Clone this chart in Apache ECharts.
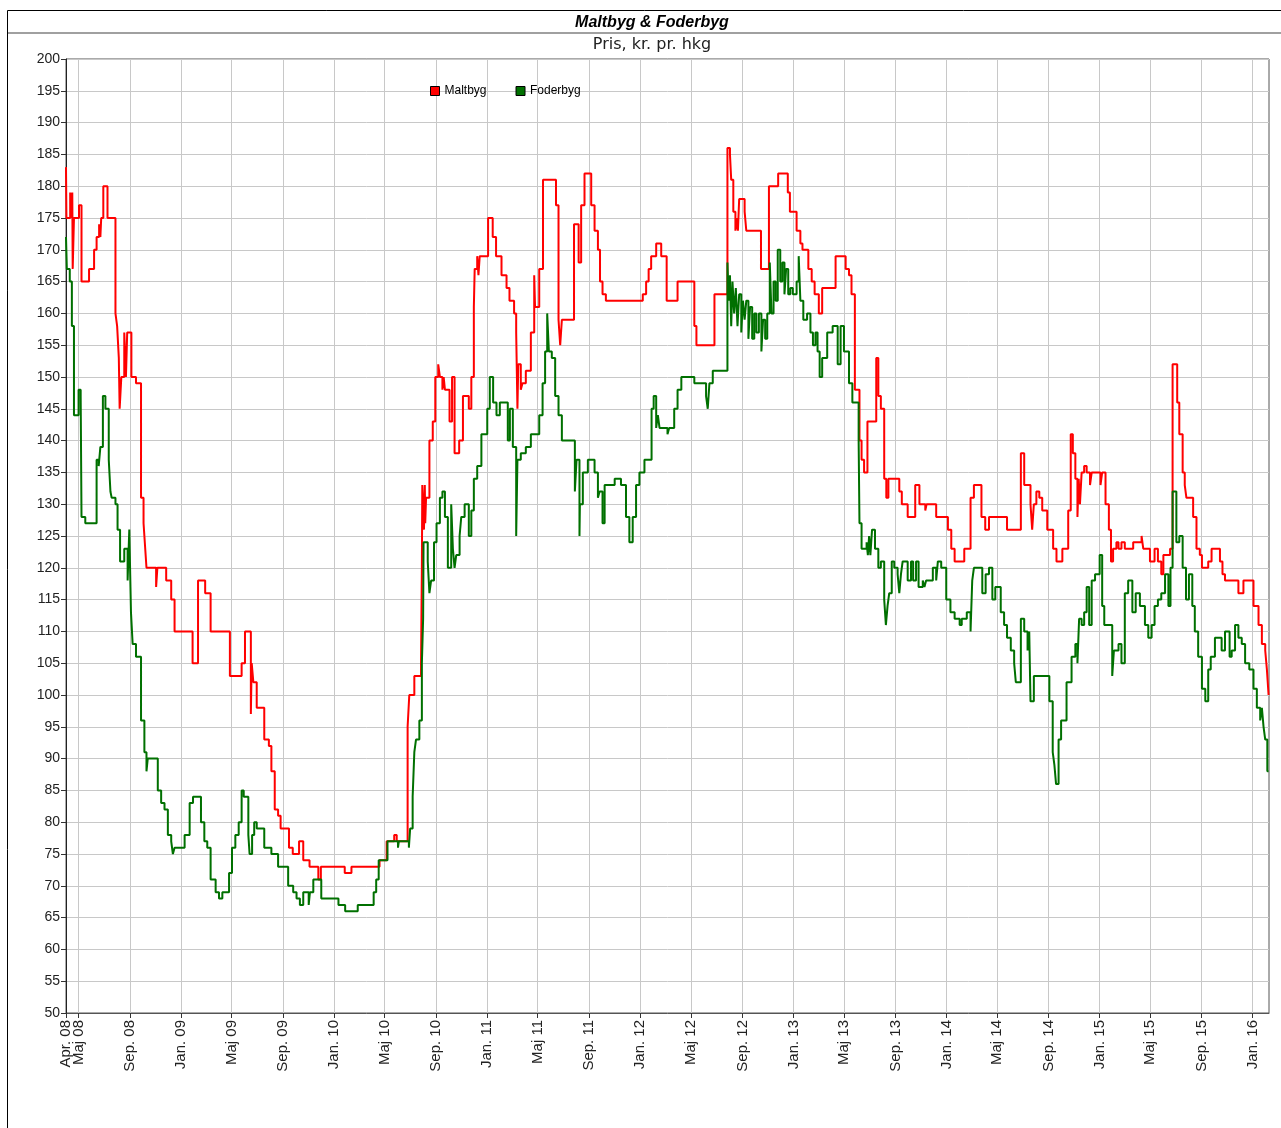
<!DOCTYPE html>
<html>
<head>
<meta charset="utf-8">
<title>Maltbyg & Foderbyg</title>
<script src="https://cdn.jsdelivr.net/npm/echarts@6/dist/echarts.min.js"></script>
<style>
    html, body { margin: 0; padding: 0; background: #fff; }
    #priceChart { width: 1281px; height: 1128px; }
</style>
</head>
<body>
<div id="priceChart"></div>
<script>
// x-akse: datoer for streger og tekster
var tickDates = ['2008-04-01','2008-05-01','2008-09-01','2009-01-01','2009-05-01','2009-09-01','2010-01-01','2010-05-01',
    '2010-09-01','2011-01-01','2011-05-01','2011-09-01','2012-01-01','2012-05-01','2012-09-01','2013-01-01','2013-05-01',
    '2013-09-01','2014-01-01','2014-05-01','2014-09-01','2015-01-01','2015-05-01','2015-09-01','2016-01-01'];
var tickLabels = ['Apr. 08','Maj 08','Sep. 08','Jan. 09','Maj 09','Sep. 09','Jan. 10','Maj 10',
    'Sep. 10','Jan. 11','Maj 11','Sep. 11','Jan. 12','Maj 12','Sep. 12','Jan. 13','Maj 13',
    'Sep. 13','Jan. 14','Maj 14','Sep. 14','Jan. 15','Maj 15','Sep. 15','Jan. 16'];
var startDate = '2008-04-01';
var endDate = '2016-02-09';

// Maltbyg - dato for prisskift og ny pris
var maltDates = ['2008-04-01','2008-04-02','2008-04-11','2008-04-14','2008-04-16','2008-04-17','2008-04-20','2008-05-02',
    '2008-05-08','2008-05-26','2008-06-07','2008-06-13','2008-06-19','2008-06-22','2008-06-24','2008-06-29','2008-07-09',
    '2008-07-28','2008-08-01','2008-08-05','2008-08-07','2008-08-11','2008-08-18','2008-08-22','2008-08-25','2008-09-04',
    '2008-09-15','2008-09-27','2008-10-03','2008-10-07','2008-10-10','2008-11-02','2008-11-05','2008-11-26','2008-12-08',
    '2008-12-16','2009-01-28','2009-02-10','2009-02-27','2009-03-12','2009-04-27','2009-05-25','2009-06-02','2009-06-16',
    '2009-06-18','2009-06-22','2009-06-30','2009-07-18','2009-07-29','2009-08-04','2009-08-12','2009-08-20','2009-08-26',
    '2009-09-15','2009-09-24','2009-10-09','2009-10-19','2009-11-03','2009-11-24','2009-11-30','2010-01-26','2010-02-11',
    '2010-04-19','2010-05-06','2010-05-24','2010-05-30','2010-06-25','2010-06-29','2010-07-11','2010-07-27','2010-07-29',
    '2010-07-30','2010-08-03','2010-08-05','2010-08-06','2010-08-08','2010-08-16','2010-08-24','2010-08-30','2010-09-06',
    '2010-09-10','2010-09-16','2010-09-19','2010-09-22','2010-10-03','2010-10-09','2010-10-15','2010-10-26','2010-11-04',
    '2010-11-18','2010-11-24','2010-11-30','2010-12-02','2010-12-08','2010-12-11','2010-12-14','2011-01-03','2011-01-14',
    '2011-01-22','2011-02-04','2011-02-16','2011-02-23','2011-03-06','2011-03-11','2011-03-14','2011-03-16','2011-03-22',
    '2011-03-26','2011-04-03','2011-04-15','2011-04-23','2011-04-25','2011-05-05','2011-05-14','2011-06-14','2011-06-20',
    '2011-06-24','2011-06-28','2011-07-27','2011-08-07','2011-08-13','2011-08-21','2011-09-06','2011-09-14','2011-09-22',
    '2011-09-27','2011-10-03','2011-10-11','2012-01-07','2012-01-15','2012-01-21','2012-01-27','2012-02-08','2012-02-20',
    '2012-03-04','2012-03-30','2012-05-09','2012-05-14','2012-06-26','2012-07-27','2012-08-02','2012-08-05','2012-08-10',
    '2012-08-15','2012-08-18','2012-08-21','2012-08-24','2012-09-06','2012-09-10','2012-10-15','2012-11-03','2012-11-25',
    '2012-12-18','2012-12-23','2013-01-08','2013-01-17','2013-01-22','2013-02-05','2013-02-13','2013-02-20','2013-03-02',
    '2013-03-10','2013-04-11','2013-05-05','2013-05-13','2013-05-19','2013-05-27','2013-06-07','2013-06-12','2013-06-18',
    '2013-06-26','2013-07-17','2013-07-22','2013-07-28','2013-08-05','2013-08-10','2013-08-15','2013-09-10','2013-09-16',
    '2013-09-30','2013-10-18','2013-10-28','2013-11-11','2013-11-14','2013-12-07','2014-01-04','2014-01-12','2014-01-20',
    '2014-02-12','2014-02-27','2014-03-07','2014-03-25','2014-04-03','2014-04-12','2014-05-25','2014-06-27','2014-07-05',
    '2014-07-20','2014-07-24','2014-07-28','2014-08-03','2014-08-10','2014-08-17','2014-08-29','2014-09-12','2014-09-20',
    '2014-10-04','2014-10-18','2014-10-24','2014-10-29','2014-11-04','2014-11-09','2014-11-12','2014-11-15','2014-11-19',
    '2014-11-25','2014-12-01','2014-12-09','2014-12-13','2015-01-03','2015-01-07','2015-01-15','2015-01-23','2015-01-28',
    '2015-02-02','2015-02-10','2015-02-15','2015-02-22','2015-03-02','2015-03-22','2015-04-11','2015-04-15','2015-05-01',
    '2015-05-12','2015-05-20','2015-05-28','2015-06-02','2015-06-18','2015-06-24','2015-07-05','2015-07-10','2015-07-18',
    '2015-07-23','2015-07-27','2015-08-12','2015-08-20','2015-08-28','2015-09-02','2015-09-17','2015-09-25','2015-10-15',
    '2015-10-21','2015-10-27','2015-11-28','2015-12-10','2016-01-03','2016-01-15','2016-01-23','2016-01-31','2016-02-04',
    '2016-02-08'];
var maltValues = [183,175,179,175,179,167,175,177,
    165,167,170,172,174,172,175,180,175,
    160,158,153,145,150,157,150,157,150,
    149,131,127,123,120,117,120,118,115,
    110,105,118,116,110,103,105,110,97,
    105,102,98,93,92,88,82,81,79,
    76,75,77,74,73,71,73,72,73,
    74,77,78,77,95,100,103,105,120,
    133,126,133,127,131,140,143,150,152,
    150,148,150,148,143,150,138,140,147,
    145,150,161,167,169,166,169,175,172,
    169,166,164,162,160,157,145,152,148,
    149,151,157,166,161,167,181,177,159,
    155,159,174,168,177,182,177,173,170,
    165,163,162,163,165,167,169,171,169,
    162,165,158,155,163,186,185,181,176,
    173,175,173,178,176,173,167,180,182,
    179,176,173,171,170,167,165,163,160,
    164,169,167,166,163,148,140,137,135,
    143,153,147,145,134,131,134,132,130,
    128,133,130,129,130,128,126,123,121,
    123,131,133,128,126,128,126,138,133,
    130,126,130,132,131,129,126,123,121,
    123,129,141,138,134,128,134,130,135,
    136,135,133,135,133,135,130,126,121,
    123,124,123,124,123,124,125,123,121,
    123,121,119,122,123,152,146,141,135,
    133,131,128,123,122,120,121,123,121,
    119,118,116,118,114,111,108,107,104,
    100];

// Foderbyg - dato for prisskift og ny pris
var foderDates = ['2008-04-01','2008-04-03','2008-04-10','2008-04-15','2008-04-20','2008-05-01','2008-05-06','2008-05-08',
    '2008-05-17','2008-06-13','2008-06-18','2008-06-22','2008-06-28','2008-07-04','2008-07-12','2008-07-16','2008-07-19',
    '2008-07-28','2008-08-02','2008-08-08','2008-08-18','2008-08-26','2008-08-30','2008-09-03','2008-09-07','2008-09-15',
    '2008-09-27','2008-10-05','2008-10-10','2008-10-13','2008-11-06','2008-11-14','2008-11-22','2008-11-30','2008-12-08',
    '2008-12-12','2008-12-16','2009-01-09','2009-01-21','2009-01-29','2009-02-17','2009-02-25','2009-03-04','2009-03-12',
    '2009-03-24','2009-04-01','2009-04-09','2009-04-25','2009-05-02','2009-05-10','2009-05-18','2009-05-25','2009-05-30',
    '2009-06-10','2009-06-13','2009-06-19','2009-06-24','2009-06-30','2009-07-18','2009-08-04','2009-08-20','2009-09-13',
    '2009-09-25','2009-10-03','2009-10-11','2009-10-19','2009-11-01','2009-11-04','2009-11-12','2009-12-01','2010-01-11',
    '2010-01-27','2010-02-26','2010-04-05','2010-04-11','2010-04-17','2010-05-08','2010-06-02','2010-06-04','2010-06-28',
    '2010-07-01','2010-07-07','2010-07-11','2010-07-15','2010-07-23','2010-07-29','2010-08-01','2010-08-02','2010-08-12',
    '2010-08-16','2010-08-20','2010-08-27','2010-09-02','2010-09-10','2010-09-16','2010-09-22','2010-09-29','2010-10-07',
    '2010-10-11','2010-10-15','2010-10-19','2010-10-27','2010-10-31','2010-11-08','2010-11-18','2010-11-24','2010-11-30',
    '2010-12-08','2010-12-18','2011-01-01','2011-01-07','2011-01-15','2011-01-23','2011-01-31','2011-02-19','2011-02-24',
    '2011-03-03','2011-03-11','2011-03-14','2011-03-22','2011-04-03','2011-04-15','2011-05-05','2011-05-13','2011-05-19',
    '2011-05-24','2011-05-28','2011-06-04','2011-06-12','2011-06-20','2011-06-28','2011-07-29','2011-08-02','2011-08-09',
    '2011-08-10','2011-08-17','2011-08-29','2011-09-14','2011-09-22','2011-09-26','2011-10-03','2011-10-08','2011-11-01',
    '2011-11-16','2011-11-28','2011-12-06','2011-12-14','2011-12-22','2011-12-30','2012-01-11','2012-01-28','2012-02-02',
    '2012-02-08','2012-02-12','2012-02-16','2012-03-06','2012-03-10','2012-03-22','2012-03-30','2012-04-08','2012-05-09',
    '2012-06-06','2012-06-10','2012-06-14','2012-06-22','2012-07-27','2012-07-30','2012-08-02','2012-08-05','2012-08-08',
    '2012-08-12','2012-08-16','2012-08-20','2012-08-24','2012-08-29','2012-09-02','2012-09-06','2012-09-10','2012-09-15',
    '2012-09-19','2012-09-24','2012-09-29','2012-10-04','2012-10-10','2012-10-16','2012-10-20','2012-10-25','2012-10-30',
    '2012-11-05','2012-11-09','2012-11-14','2012-11-19','2012-11-24','2012-11-30','2012-12-05','2012-12-10','2012-12-14',
    '2012-12-19','2012-12-24','2012-12-30','2013-01-08','2013-01-13','2013-01-17','2013-01-24','2013-02-02','2013-02-10',
    '2013-02-16','2013-02-22','2013-02-27','2013-03-04','2013-03-10','2013-03-22','2013-04-04','2013-04-16','2013-04-23',
    '2013-05-01','2013-05-13','2013-05-21','2013-06-05','2013-06-07','2013-06-12','2013-06-24','2013-06-27','2013-06-30',
    '2013-07-03','2013-07-07','2013-07-14','2013-07-22','2013-07-28','2013-08-05','2013-08-09','2013-08-13','2013-08-17',
    '2013-08-23','2013-08-29','2013-09-06','2013-09-10','2013-09-14','2013-09-18','2013-09-30','2013-10-08','2013-10-13',
    '2013-10-20','2013-10-26','2013-11-05','2013-11-09','2013-11-13','2013-11-29','2013-12-07','2013-12-11','2013-12-19',
    '2013-12-31','2014-01-10','2014-01-20','2014-02-01','2014-02-06','2014-02-18','2014-02-27','2014-03-03','2014-03-07',
    '2014-03-27','2014-04-04','2014-04-12','2014-04-20','2014-04-27','2014-05-10','2014-05-18','2014-05-25','2014-06-03',
    '2014-06-11','2014-06-15','2014-06-27','2014-07-05','2014-07-13','2014-07-17','2014-07-20','2014-07-28','2014-09-03',
    '2014-09-11','2014-09-15','2014-09-19','2014-09-25','2014-10-01','2014-10-14','2014-10-26','2014-11-04','2014-11-09',
    '2014-11-13','2014-11-19','2014-11-25','2014-12-01','2014-12-07','2014-12-13','2014-12-21','2015-01-01','2015-01-07',
    '2015-01-12','2015-01-31','2015-02-04','2015-02-15','2015-02-22','2015-03-02','2015-03-10','2015-03-20','2015-03-28',
    '2015-04-07','2015-04-19','2015-04-27','2015-05-05','2015-05-12','2015-05-20','2015-05-28','2015-06-06','2015-06-14',
    '2015-06-19','2015-06-24','2015-07-03','2015-07-10','2015-07-18','2015-07-26','2015-08-02','2015-08-10','2015-08-16',
    '2015-08-24','2015-09-02','2015-09-10','2015-09-17','2015-09-23','2015-10-03','2015-10-19','2015-10-27','2015-11-07',
    '2015-11-12','2015-11-20','2015-11-28','2015-12-06','2015-12-14','2015-12-24','2016-01-03','2016-01-11','2016-01-19',
    '2016-01-23','2016-01-27','2016-01-31','2016-02-05','2016-02-08'];
var foderValues = [172,167,165,158,144,148,147,128,
    127,137,136,139,147,145,137,132,131,
    130,126,121,123,118,126,113,108,106,
    96,91,88,90,85,83,82,78,77,
    75,76,78,83,84,80,77,76,71,
    69,68,69,72,76,78,80,85,84,
    78,75,78,80,79,76,75,73,70,
    69,68,67,69,67,69,71,68,67,
    66,67,69,71,74,77,76,77,76,
    79,84,91,93,96,105,112,124,121,
    116,118,124,127,131,132,128,120,130,
    123,120,122,125,128,130,125,129,134,
    136,141,145,150,146,144,146,140,145,
    139,125,137,138,139,141,144,149,154,
    160,154,153,147,144,140,132,137,125,
    130,135,137,135,131,132,127,133,134,
    133,128,124,128,133,135,137,145,147,
    142,144,142,141,142,145,148,150,149,
    147,145,149,151,168,162,166,158,165,
    160,164,158,163,157,162,159,162,156,
    161,156,160,157,160,154,159,156,160,
    168,160,165,162,170,165,168,163,167,
    163,164,163,165,169,162,159,160,157,
    155,157,154,150,153,157,158,152,158,
    154,149,146,140,127,123,124,122,125,
    122,126,123,120,121,115,111,114,116,
    121,120,119,116,119,121,118,121,118,
    121,117,118,117,118,120,118,121,120,
    115,113,112,111,112,113,110,118,120,
    116,119,120,115,117,113,111,109,107,
    105,102,112,110,107,110,99,103,99,
    91,89,86,93,96,102,106,108,105,
    112,111,113,117,111,118,119,122,114,
    111,103,107,108,105,116,118,113,116,
    114,111,109,111,114,115,116,119,114,
    120,132,124,125,120,115,119,114,110,
    106,101,99,104,106,109,107,110,106,
    107,111,109,108,105,104,101,98,96,
    98,95,93,88,88];

var yMin = 50;
var yMax = 200;
var yStep = 5;

function toTime(s) {
    var p = s.split('-');
    return new Date(+p[0], +p[1] - 1, +p[2]).getTime();
}

function buildSeriesData(dates, values) {
    var list = [];
    for (var i = 0; i < dates.length; i++) {
        list.push([toTime(dates[i]), values[i]]);
    }
    return list;
}

function dateLabel(value) {
    var idx = tickTimes.indexOf(value);
    return idx >= 0 ? tickLabels[idx] : '';
}

var tickTimes = tickDates.map(toTime);
var labelFont = 'Liberation Sans';
var xLabelStyle = { rotate: 90, margin: 7, fontFamily: labelFont, fontSize: 15, color: '#222' };

var chart = echarts.init(document.getElementById('priceChart'));
var option = {
    backgroundColor: '#fff',
    animation: false,
    graphic: [
        { type: 'rect', shape: { x: 7.5, y: 10.5, width: 1300, height: 1140 },
          style: { fill: 'none', stroke: '#000', lineWidth: 1 }, silent: true },
        { type: 'line', shape: { x1: 8, y1: 33, x2: 1281, y2: 33 },
          style: { stroke: '#a0a0a0', lineWidth: 2 }, silent: true },
        { type: 'text', x: 652, y: 23,
          style: { text: 'Maltbyg & Foderbyg', align: 'center', verticalAlign: 'middle',
                   font: 'italic bold 16px "Liberation Sans"', fill: '#000' } },
        { type: 'text', x: 652, y: 45,
          style: { text: 'Pris, kr. pr. hkg', align: 'center', verticalAlign: 'middle',
                   font: '16px "DejaVu Sans"', fill: '#222' } }
    ],
    legend: {
        left: 425,
        top: 80,
        icon: 'rect',
        itemWidth: 9,
        itemHeight: 9,
        itemGap: 29,
        itemStyle: { borderColor: '#000', borderWidth: 1 },
        textStyle: { fontFamily: labelFont, fontSize: 12, color: '#000' },
        data: ['Maltbyg', 'Foderbyg']
    },
    grid: {
        left: 66,
        top: 59,
        width: 1203,
        height: 954,
        show: true,
        borderColor: '#555',
        borderWidth: 1,
        containLabel: false
    },
    xAxis: [
        {
            // hovedakse: streger, gitter og tekster fra Maj 08
            type: 'value',
            min: toTime(startDate),
            max: toTime(endDate),
            axisLine: { lineStyle: { color: '#555', width: 1 } },
            axisTick: { show: true, length: 5, lineStyle: { color: '#333' }, customValues: tickTimes },
            splitLine: { show: true, lineStyle: { color: '#c8c8c8', width: 1 } },
            axisLabel: Object.assign({
                customValues: tickTimes.slice(1),
                formatter: dateLabel
            }, xLabelStyle)
        },
        {
            // kun teksten "Apr. 08", som ellers skjules af overlap-tjek
            type: 'value',
            position: 'bottom',
            min: toTime(startDate),
            max: toTime(endDate),
            axisLine: { show: false },
            axisTick: { show: false },
            splitLine: { show: false },
            axisLabel: Object.assign({
                customValues: tickTimes.slice(0, 1),
                formatter: dateLabel
            }, xLabelStyle)
        }
    ],
    yAxis: {
        type: 'value',
        min: yMin,
        max: yMax,
        interval: yStep,
        axisLine: { show: true, lineStyle: { color: '#222', width: 1 } },
        axisTick: { show: true, length: 5, lineStyle: { color: '#333' } },
        splitLine: { show: true, lineStyle: { color: '#c8c8c8', width: 1 } },
        axisLabel: { fontFamily: labelFont, fontSize: 14, color: '#222', margin: 6 }
    },
    series: [
        {
            name: 'Maltbyg',
            type: 'line',
            step: 'end',
            symbol: 'none',
            color: '#ff0000',
            lineStyle: { width: 2, color: '#ff0000' },
            data: buildSeriesData(maltDates, maltValues)
        },
        {
            name: 'Foderbyg',
            type: 'line',
            step: 'end',
            symbol: 'none',
            color: '#007000',
            lineStyle: { width: 2, color: '#007000' },
            data: buildSeriesData(foderDates, foderValues)
        }
    ]
};
chart.setOption(option);
</script>
</body>
</html>
